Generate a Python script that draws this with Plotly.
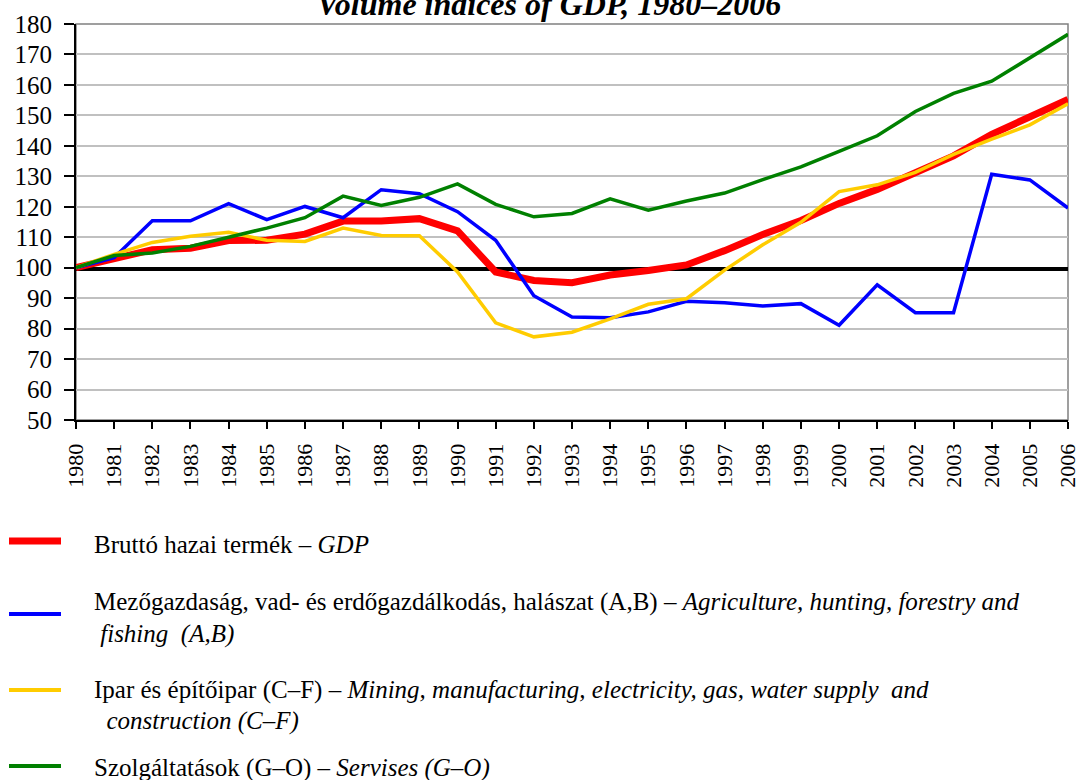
import plotly.graph_objects as go

# ---- data ----
years = [1980, 1981, 1982, 1983, 1984, 1985, 1986, 1987, 1988, 1989, 1990,
         1991, 1992, 1993, 1994, 1995, 1996, 1997, 1998, 1999, 2000,
         2001, 2002, 2003, 2004, 2005, 2006]

gdp = [100, 102.7, 105.9, 106.4, 108.9, 109.0, 111.0, 115.3, 115.3, 116.1, 112.1,
       98.6, 95.8, 95.1, 97.6, 99.1, 100.9, 105.6, 110.9, 115.5, 121.1,
       125.7, 130.9, 136.7, 143.8, 149.3, 155.2]

agriculture = [100, 103.3, 115.4, 115.4, 121.0, 115.8, 120.1, 116.4, 125.6, 124.3, 118.4,
               109.0, 90.8, 83.8, 83.6, 85.5, 89.0, 88.5, 87.4, 88.2, 81.1,
               94.4, 85.2, 85.2, 130.7, 128.8, 119.6]

industry = [100, 104.4, 108.3, 110.3, 111.6, 109.0, 108.6, 113.0, 110.6, 110.5, 98.6,
            81.9, 77.3, 78.8, 83.2, 88.0, 89.8, 99.2, 107.5, 114.9, 125.0,
            127.2, 131.3, 137.2, 142.2, 146.9, 153.8]

services = [100, 104.0, 104.8, 107.0, 110.0, 113.0, 116.4, 123.5, 120.4, 123.1, 127.5,
            120.8, 116.7, 117.8, 122.6, 118.9, 121.9, 124.5, 128.9, 133.1, 138.2,
            143.3, 151.3, 157.2, 161.2, 168.9, 176.6]

baseline_value = 99.6

y_ticks = [50, 60, 70, 80, 90, 100, 110, 120, 130, 140, 150, 160, 170, 180]

title_text = "<b><i>Volume indices of GDP, 1980–2006</i></b>"

legend_entries = [
    ("#FF0000", 7, ["Bruttó hazai termék – <i>GDP</i>"]),
    ("#0000FF", 4, ["Mezőgazdaság, vad- és erdőgazdálkodás, halászat (A,B) – <i>Agriculture, hunting, forestry and</i>",
                    " <i>fishing  (A,B)</i>"]),
    ("#FFCC00", 4, ["Ipar és építőipar (C–F) – <i>Mining, manufacturing, electricity, gas, water supply  and</i>",
                    "  <i>construction (C–F)</i>"]),
    ("#008000", 4, ["Szolgáltatások (G–O) – <i>Servises (G–O)</i>"]),
]

# ---- layout geometry (pixels) ----
W, H = 1079, 780
L, R, T, B = 76, 1068, 24, 420
pw, ph = R - L, B - T

def px_x(x):
    return (x - L) / pw

def px_y(y):
    return (B - y) / ph

FONT = "Liberation Serif, Times New Roman, serif"

fig = go.Figure()

fig.add_trace(go.Scatter(x=years, y=[baseline_value] * len(years), mode="lines",
                         line=dict(color="black", width=4), showlegend=False, hoverinfo="skip"))
fig.add_trace(go.Scatter(x=years, y=gdp, mode="lines", name="GDP",
                         line=dict(color="#FF0000", width=7), showlegend=False))
fig.add_trace(go.Scatter(x=years, y=agriculture, mode="lines", name="Agriculture",
                         line=dict(color="#0000FF", width=3.5), showlegend=False))
fig.add_trace(go.Scatter(x=years, y=industry, mode="lines", name="Industry",
                         line=dict(color="#FFCC00", width=3.5), showlegend=False))
fig.add_trace(go.Scatter(x=years, y=services, mode="lines", name="Services",
                         line=dict(color="#008000", width=3.5), showlegend=False))

shapes = [dict(type="rect", xref="paper", yref="paper", x0=0, x1=1, y0=0, y1=1,
               line=dict(color="#808080", width=1.5), layer="below")]
annotations = [dict(text=title_text, xref="paper", yref="paper", x=px_x(549), y=px_y(4),
                    xanchor="center", yanchor="middle", showarrow=False,
                    font=dict(family=FONT, size=32, color="black"))]

sample_y = [541, 614, 690, 766]
text_rows = [[544], [602, 634], [690, 721], [768]]
text_x = [[92], [92, 92], [92, 92], [92]]
for (color, width, lines), sy, rows, xs in zip(legend_entries, sample_y, text_rows, text_x):
    shapes.append(dict(type="line", xref="paper", yref="paper",
                       x0=px_x(9), x1=px_x(61), y0=px_y(sy), y1=px_y(sy),
                       line=dict(color=color, width=width)))
    for txt, ry, rx in zip(lines, rows, xs):
        annotations.append(dict(text=txt, xref="paper", yref="paper", x=px_x(rx), y=px_y(ry),
                                xanchor="left", yanchor="middle", showarrow=False,
                                font=dict(family=FONT, size=25, color="black")))

fig.update_layout(
    width=W, height=H,
    margin=dict(l=L, r=W - R, t=T, b=H - B, pad=0, autoexpand=False),
    paper_bgcolor="white", plot_bgcolor="white",
    font=dict(family=FONT, size=24, color="black"),
    shapes=shapes, annotations=annotations,
    xaxis=dict(range=[1980, 2006], tickmode="array", tickvals=years,
               ticktext=[str(y) for y in years], tickangle=-90,
               showgrid=False, zeroline=False, showline=True, linecolor="black", linewidth=2,
               ticks="outside", ticklen=7, tickwidth=1.5, tickcolor="black",
               ticklabelstandoff=6, ticklabeloverflow="allow", automargin=False,
               tickfont=dict(family=FONT, size=22)),
    yaxis=dict(range=[50, 180], tickmode="array", tickvals=y_ticks,
               showgrid=True, gridcolor="#C0C0C0", gridwidth=2, zeroline=False,
               showline=True, linecolor="black", linewidth=2,
               ticks="outside", ticklen=10, tickwidth=1.5, tickcolor="black",
               ticklabelstandoff=7, automargin=False,
               tickfont=dict(family=FONT, size=25)),
)

fig.write_html("out.html", config={"displayModeBar": False},
               post_script="document.body.style.margin='0';document.body.style.overflow='hidden';")
